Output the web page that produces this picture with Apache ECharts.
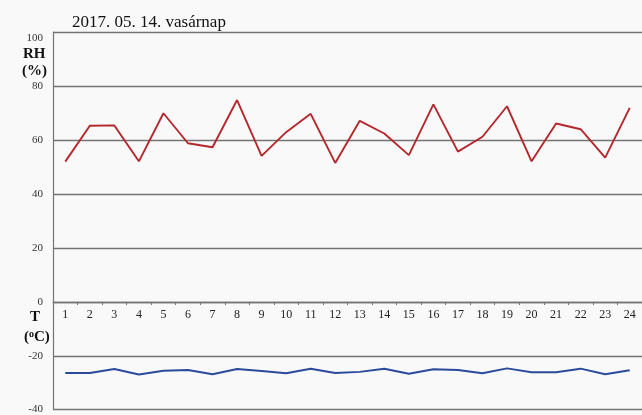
<!DOCTYPE html>
<html>
<head>
<meta charset="utf-8">
<style>
  html, body { margin: 0; padding: 0; background: #ffffff; }
  #chart { width: 642px; height: 415px; }
</style>
<script src="https://cdn.jsdelivr.net/npm/echarts@6/dist/echarts.min.js"></script>
</head>
<body>
<div id="chart"></div>
<script>
// Hourly readings for one day
const hours = ['1','2','3','4','5','6','7','8','9','10','11','12','13','14','15','16','17','18','19','20','21','22','23','24'];
const humidity = [52.0, 65.3, 65.4, 52.1, 69.9, 58.8, 57.3, 74.8, 54.1, 62.9, 69.7, 51.5, 67.1, 62.4, 54.4, 73.2, 55.7, 61.2, 72.5, 52.1, 66.1, 64.0, 53.5, 71.9];
const temperature = [-26.4, -26.4, -24.9, -27.0, -25.6, -25.3, -26.9, -24.9, -25.7, -26.5, -24.8, -26.4, -26.0, -24.8, -26.7, -25.0, -25.3, -26.5, -24.7, -26.1, -26.1, -24.8, -26.9, -25.4];
const rhTicks = { min: 0, max: 100, step: 20 };
const tTicks = { min: -40, max: 0, step: 20 };
const titleText = '2017. 05. 14. vasárnap';

const serif = '"Liberation Serif", "DejaVu Serif", serif';
const gridColor = '#747474';
const labelStyle = { fontFamily: serif, fontSize: 11, color: '#333' };

const chart = echarts.init(document.getElementById('chart'));
chart.setOption({
  backgroundColor: '#f9f9f9',
  animation: false,
  title: {
    text: titleText,
    left: 67, top: 9,
    textStyle: { fontFamily: serif, fontSize: 17, fontWeight: 'normal', color: '#111' }
  },
  grid: [
    { left: 53, right: 0, top: 32, height: 270 },
    { left: 53, right: 0, top: 302, height: 109 }
  ],
  xAxis: [
    {
      type: 'category', gridIndex: 0, data: hours, boundaryGap: true,
      axisLine: { lineStyle: { color: gridColor, width: 1.2 } },
      axisTick: { show: true, length: 3, lineStyle: { color: gridColor } },
      axisLabel: Object.assign({ margin: 7, interval: 0 }, labelStyle, { fontSize: 12, color: '#222' })
    },
    {
      type: 'category', gridIndex: 1, data: hours, boundaryGap: true,
      axisLine: { show: false }, axisTick: { show: false }, axisLabel: { show: false }
    }
  ],
  yAxis: [
    {
      type: 'value', gridIndex: 0, min: rhTicks.min, max: rhTicks.max, interval: rhTicks.step,
      axisLine: { show: true, lineStyle: { color: gridColor, width: 1.2 } },
      axisTick: { show: false },
      splitLine: { lineStyle: { color: gridColor, width: 1.3 } },
      axisLabel: Object.assign({
        margin: 10,
        formatter: v => v === rhTicks.max ? '{top|' + v + '}' : String(v),
        rich: { top: { fontFamily: serif, fontSize: 11, color: '#333', padding: [13, 0, 0, 0] } }
      }, labelStyle)
    },
    {
      type: 'value', gridIndex: 1, min: tTicks.min, max: tTicks.max, interval: tTicks.step,
      axisLine: { show: true, lineStyle: { color: gridColor, width: 1.2 } },
      axisTick: { show: false },
      splitLine: { lineStyle: { color: gridColor, width: 1.3 } },
      axisLabel: Object.assign({
        margin: 10,
        showMaxLabel: false
      }, labelStyle)
    }
  ],
  graphic: [
    { type: 'text', left: 23, top: 47, style: { text: 'RH', font: 'bold 15px ' + serif, fill: '#111' } },
    { type: 'text', left: 22, top: 64, style: { text: '(%)', font: 'bold 15px ' + serif, fill: '#111' } },
    { type: 'text', left: 30, top: 310, style: { text: 'T', font: 'bold 15px ' + serif, fill: '#111' } },
    {
      type: 'text', left: 24, top: 329,
      style: {
        text: '({sup|o}C)',
        font: 'bold 15px ' + serif, fill: '#111',
        rich: { sup: { font: 'bold 10px ' + serif, fill: '#111', verticalAlign: 'top', padding: [0, 0, 6, 0] } }
      }
    }
  ],
  series: [
    {
      name: 'RH', type: 'line', xAxisIndex: 0, yAxisIndex: 0, data: humidity,
      showSymbol: false, symbol: 'none',
      lineStyle: { color: '#b3282d', width: 1.9 }
    },
    {
      name: 'T', type: 'line', xAxisIndex: 1, yAxisIndex: 1, data: temperature,
      showSymbol: false, symbol: 'none',
      lineStyle: { color: '#2b4a9b', width: 2 }
    }
  ]
});
</script>
</body>
</html>
